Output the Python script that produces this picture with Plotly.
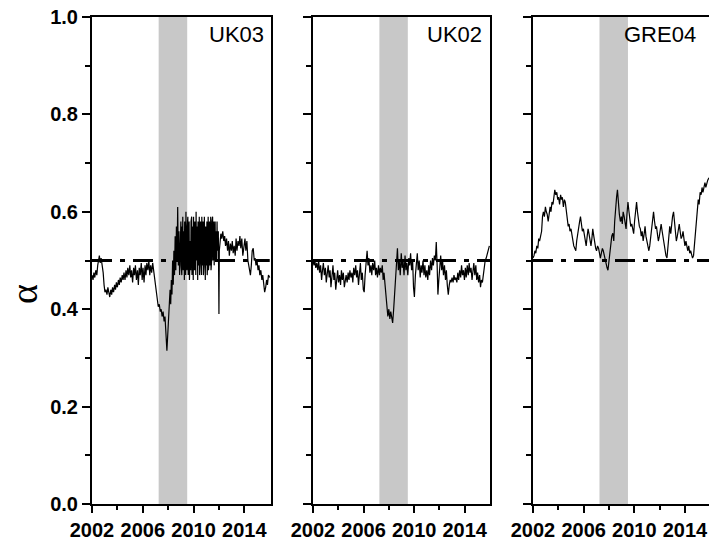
import plotly.graph_objects as go

# ---------------- data ----------------
panel_names = ["UK03", "UK02", "GRE04"]
crisis_window = [2007.25, 2009.5]
reference_alpha = 0.5
year_span = [2002, 2016]
year_ticks = [2002, 2006, 2010, 2014]
alpha_ticks = [0.0, 0.2, 0.4, 0.6, 0.8, 1.0]
alpha_tick_labels = ["0.0", "0.2", "0.4", "0.6", "0.8", "1.0"]

# UK03: pre-crisis part
uk03_years_a = [
    2002.00, 2002.08, 2002.15, 2002.22, 2002.30, 2002.38, 2002.45, 2002.52, 2002.58, 2002.65,
    2002.72, 2002.80, 2002.88, 2002.95, 2003.02, 2003.10, 2003.18, 2003.25, 2003.32, 2003.40,
    2003.48, 2003.55, 2003.62, 2003.70, 2003.78, 2003.85, 2003.92, 2004.00, 2004.08, 2004.15,
    2004.22, 2004.30, 2004.38, 2004.45, 2004.52, 2004.60, 2004.68, 2004.75, 2004.82, 2004.90,
    2004.98, 2005.05, 2005.12, 2005.20, 2005.28, 2005.35, 2005.42, 2005.50, 2005.58, 2005.65,
    2005.72, 2005.80, 2005.88, 2005.95, 2006.02, 2006.10, 2006.18, 2006.25, 2006.32, 2006.40,
    2006.48, 2006.55, 2006.62, 2006.70, 2006.78, 2006.85, 2006.92, 2007.00, 2007.08, 2007.15,
    2007.22, 2007.30, 2007.38, 2007.45, 2007.52, 2007.60, 2007.68, 2007.75, 2007.82, 2007.90,
    2007.95, 2008.00, 2008.05, 2008.10, 2008.15, 2008.20, 2008.25, 2008.30, 2008.35, 2008.40,
    2008.45, 2008.50, 2008.55, 2008.60, 2008.65, 2008.70, 2008.75, 2008.80, 2008.85, 2008.90,
    2008.95,
]
uk03_alpha_a = [
    0.470, 0.460, 0.475, 0.465, 0.480, 0.470, 0.490, 0.505, 0.510, 0.495,
    0.505, 0.490, 0.475, 0.450, 0.435, 0.440, 0.430, 0.445, 0.435, 0.425,
    0.440, 0.430, 0.445, 0.435, 0.450, 0.440, 0.455, 0.445, 0.460, 0.450,
    0.465, 0.455, 0.470, 0.460, 0.475, 0.460, 0.480, 0.465, 0.485, 0.470,
    0.490, 0.465, 0.480, 0.455, 0.485, 0.470, 0.490, 0.460, 0.480, 0.450,
    0.485, 0.470, 0.495, 0.460, 0.485, 0.455, 0.490, 0.470, 0.495, 0.480,
    0.500, 0.470, 0.490, 0.475, 0.495, 0.480, 0.465, 0.450, 0.430, 0.415,
    0.405, 0.410, 0.395, 0.400, 0.385, 0.395, 0.375, 0.385, 0.360, 0.315,
    0.340, 0.370, 0.400, 0.420, 0.440, 0.410, 0.460, 0.430, 0.500, 0.450,
    0.520, 0.470, 0.550, 0.480, 0.570, 0.500, 0.610, 0.490, 0.560, 0.470,
    0.580,
]
# UK03: dense, high-volatility stretch 2009-2012
uk03_years_b = [
    2009.000, 2009.025, 2009.050, 2009.075, 2009.100, 2009.125, 2009.150, 2009.175, 2009.200, 2009.225,
    2009.250, 2009.275, 2009.300, 2009.325, 2009.350, 2009.375, 2009.400, 2009.425, 2009.450, 2009.475,
    2009.500, 2009.525, 2009.550, 2009.575, 2009.600, 2009.625, 2009.650, 2009.675, 2009.700, 2009.725,
    2009.750, 2009.775, 2009.800, 2009.825, 2009.850, 2009.875, 2009.900, 2009.925, 2009.950, 2009.975,
    2010.000, 2010.025, 2010.050, 2010.075, 2010.100, 2010.125, 2010.150, 2010.175, 2010.200, 2010.225,
    2010.250, 2010.275, 2010.300, 2010.325, 2010.350, 2010.375, 2010.400, 2010.425, 2010.450, 2010.475,
    2010.500, 2010.525, 2010.550, 2010.575, 2010.600, 2010.625, 2010.650, 2010.675, 2010.700, 2010.725,
    2010.750, 2010.775, 2010.800, 2010.825, 2010.850, 2010.875, 2010.900, 2010.925, 2010.950, 2010.975,
    2011.000, 2011.025, 2011.050, 2011.075, 2011.100, 2011.125, 2011.150, 2011.175, 2011.200, 2011.225,
    2011.250, 2011.275, 2011.300, 2011.325, 2011.350, 2011.375, 2011.400, 2011.425, 2011.450, 2011.475,
    2011.500, 2011.525, 2011.550, 2011.575, 2011.600, 2011.625, 2011.650, 2011.675, 2011.700, 2011.725,
    2011.750, 2011.775, 2011.800, 2011.825, 2011.850, 2011.875, 2011.900, 2011.925, 2011.950, 2011.975,
]
uk03_alpha_b = [
    0.58, 0.49, 0.55, 0.47, 0.57, 0.52, 0.59, 0.48, 0.54, 0.50,
    0.56, 0.46, 0.58, 0.51, 0.55, 0.47, 0.60, 0.50, 0.53, 0.48,
    0.57, 0.49, 0.59, 0.47, 0.55, 0.52, 0.58, 0.46, 0.56, 0.50,
    0.54, 0.48, 0.58, 0.50, 0.59, 0.47, 0.55, 0.51, 0.57, 0.46,
    0.59, 0.49, 0.56, 0.48, 0.58, 0.52, 0.55, 0.47, 0.60, 0.50,
    0.55, 0.48, 0.57, 0.46, 0.58, 0.51, 0.56, 0.49, 0.59, 0.47,
    0.56, 0.50, 0.58, 0.48, 0.55, 0.47, 0.59, 0.51, 0.57, 0.49,
    0.58, 0.47, 0.55, 0.50, 0.59, 0.48, 0.56, 0.46, 0.57, 0.51,
    0.55, 0.49, 0.58, 0.47, 0.56, 0.51, 0.59, 0.48, 0.57, 0.50,
    0.58, 0.49, 0.56, 0.52, 0.59, 0.48, 0.57, 0.50, 0.58, 0.51,
    0.59, 0.50, 0.57, 0.52, 0.58, 0.49, 0.56, 0.51, 0.58, 0.50,
    0.57, 0.51, 0.56, 0.50, 0.58, 0.52, 0.55, 0.50, 0.56, 0.51,
]
# UK03: post-2012 part
uk03_years_c = [
    2012.00, 2012.03, 2012.08, 2012.15,
    2012.22, 2012.30, 2012.38, 2012.45, 2012.52, 2012.60, 2012.68, 2012.75, 2012.82, 2012.90,
    2012.98, 2013.05, 2013.12, 2013.20, 2013.28, 2013.35, 2013.42, 2013.50, 2013.58, 2013.65,
    2013.72, 2013.80, 2013.88, 2013.95, 2014.05, 2014.12, 2014.20, 2014.28, 2014.38, 2014.48,
    2014.55, 2014.62, 2014.70, 2014.78, 2014.85, 2014.92, 2015.00, 2015.08, 2015.15, 2015.22,
    2015.30, 2015.38, 2015.45, 2015.52, 2015.60, 2015.68, 2015.75, 2015.82, 2015.90, 2016.00,
]
uk03_alpha_c = [
    0.390, 0.520, 0.540, 0.555,
    0.545, 0.560, 0.540, 0.550, 0.530, 0.545, 0.520, 0.540, 0.510, 0.535,
    0.520, 0.540, 0.515, 0.530, 0.510, 0.545, 0.520, 0.540, 0.530, 0.550,
    0.525, 0.545, 0.510, 0.530, 0.545, 0.520, 0.540, 0.500, 0.480, 0.470,
    0.490, 0.520, 0.525, 0.500, 0.505, 0.490, 0.500, 0.480, 0.490, 0.470,
    0.480, 0.460, 0.470, 0.450, 0.435, 0.445, 0.460, 0.450, 0.470, 0.465,
]
uk03_years = uk03_years_a + uk03_years_b + uk03_years_c
uk03_alpha = uk03_alpha_a + uk03_alpha_b + uk03_alpha_c

uk02_years = [
    2002.00, 2002.08, 2002.15, 2002.22, 2002.30, 2002.38, 2002.45, 2002.52, 2002.60, 2002.68,
    2002.75, 2002.82, 2002.90, 2002.98, 2003.05, 2003.12, 2003.20, 2003.28, 2003.35, 2003.42,
    2003.50, 2003.58, 2003.65, 2003.72, 2003.80, 2003.88, 2003.95, 2004.02, 2004.10, 2004.18,
    2004.25, 2004.32, 2004.40, 2004.48, 2004.55, 2004.62, 2004.70, 2004.78, 2004.85, 2004.92,
    2005.00, 2005.08, 2005.15, 2005.22, 2005.30, 2005.38, 2005.45, 2005.52, 2005.60, 2005.68,
    2005.75, 2005.82, 2005.90, 2005.98, 2006.05, 2006.12, 2006.20, 2006.28, 2006.35, 2006.42,
    2006.50, 2006.58, 2006.65, 2006.72, 2006.80, 2006.88, 2006.95, 2007.02, 2007.10, 2007.18,
    2007.25, 2007.32, 2007.40, 2007.48, 2007.55, 2007.62, 2007.70, 2007.78, 2007.85, 2007.92,
    2008.00, 2008.08, 2008.15, 2008.22, 2008.30, 2008.38, 2008.45, 2008.52, 2008.60, 2008.68,
    2008.75, 2008.82, 2008.90, 2008.98, 2009.05, 2009.12, 2009.20, 2009.28, 2009.35, 2009.42,
    2009.50, 2009.58, 2009.65, 2009.72, 2009.80, 2009.88, 2009.95, 2010.02, 2010.10, 2010.18,
    2010.25, 2010.32, 2010.40, 2010.48, 2010.55, 2010.62, 2010.70, 2010.78, 2010.85, 2010.92,
    2011.00, 2011.08, 2011.15, 2011.22, 2011.30, 2011.38, 2011.45, 2011.52, 2011.60, 2011.68,
    2011.75, 2011.82, 2011.88, 2011.95, 2012.02, 2012.10, 2012.18, 2012.25, 2012.32, 2012.40,
    2012.48, 2012.55, 2012.62, 2012.70, 2012.78, 2012.85, 2012.92, 2013.00, 2013.08, 2013.15,
    2013.22, 2013.30, 2013.38, 2013.45, 2013.52, 2013.60, 2013.68, 2013.75, 2013.82, 2013.90,
    2013.98, 2014.05, 2014.12, 2014.20, 2014.28, 2014.35, 2014.42, 2014.50, 2014.58, 2014.65,
    2014.72, 2014.80, 2014.88, 2014.95, 2015.02, 2015.10, 2015.18, 2015.25, 2015.32, 2015.40,
    2015.48, 2015.55, 2015.62, 2015.70, 2015.78, 2015.85, 2015.95,
]
uk02_alpha = [
    0.500, 0.490, 0.500, 0.485, 0.495, 0.480, 0.500, 0.475, 0.490, 0.460,
    0.480, 0.495, 0.470, 0.485, 0.455, 0.480, 0.490, 0.465, 0.480, 0.445,
    0.470, 0.490, 0.460, 0.475, 0.440, 0.465, 0.480, 0.455, 0.470, 0.450,
    0.480, 0.460, 0.475, 0.445, 0.465, 0.470, 0.455, 0.475, 0.460, 0.480,
    0.465, 0.475, 0.455, 0.485, 0.470, 0.490, 0.465, 0.480, 0.450, 0.470,
    0.495, 0.460, 0.475, 0.440, 0.435, 0.470, 0.500, 0.520, 0.490, 0.505,
    0.475, 0.490, 0.470, 0.495, 0.480, 0.500, 0.470, 0.485, 0.465, 0.490,
    0.470, 0.485, 0.475, 0.490, 0.460, 0.475, 0.450, 0.430, 0.410, 0.385,
    0.400, 0.380, 0.395, 0.385, 0.372, 0.400, 0.435, 0.470, 0.500, 0.525,
    0.480, 0.500, 0.470, 0.515, 0.485, 0.500, 0.470, 0.510, 0.480, 0.495,
    0.470, 0.505, 0.490, 0.515, 0.480, 0.500, 0.445, 0.425, 0.470, 0.490,
    0.515, 0.480, 0.500, 0.465, 0.490, 0.475, 0.500, 0.470, 0.490, 0.465,
    0.480, 0.460, 0.490, 0.470, 0.500, 0.480, 0.505, 0.490, 0.510, 0.500,
    0.538, 0.490, 0.430, 0.460, 0.490, 0.510, 0.480, 0.500, 0.470, 0.490,
    0.460, 0.480, 0.450, 0.430, 0.450, 0.460, 0.455, 0.465, 0.455, 0.470,
    0.460, 0.465, 0.455, 0.475, 0.460, 0.480, 0.465, 0.490, 0.470, 0.480,
    0.460, 0.485, 0.465, 0.490, 0.470, 0.495, 0.475, 0.485, 0.460, 0.480,
    0.495, 0.470, 0.490, 0.460, 0.475, 0.455, 0.470, 0.445, 0.460, 0.455,
    0.470, 0.490, 0.500, 0.505, 0.515, 0.520, 0.530,
]

gre04_years = [
    2002.00, 2002.08, 2002.15, 2002.22, 2002.30, 2002.38, 2002.45, 2002.52, 2002.60, 2002.68,
    2002.75, 2002.82, 2002.90, 2002.98, 2003.05, 2003.12, 2003.20, 2003.28, 2003.35, 2003.42,
    2003.50, 2003.58, 2003.65, 2003.72, 2003.80, 2003.88, 2003.95, 2004.02, 2004.10, 2004.18,
    2004.25, 2004.32, 2004.40, 2004.48, 2004.55, 2004.62, 2004.70, 2004.78, 2004.85, 2004.92,
    2005.00, 2005.08, 2005.15, 2005.22, 2005.30, 2005.38, 2005.45, 2005.52, 2005.60, 2005.68,
    2005.75, 2005.82, 2005.90, 2005.98, 2006.05, 2006.12, 2006.20, 2006.28, 2006.35, 2006.42,
    2006.50, 2006.58, 2006.65, 2006.72, 2006.80, 2006.88, 2006.95, 2007.02, 2007.10, 2007.18,
    2007.25, 2007.32, 2007.40, 2007.48, 2007.55, 2007.62, 2007.70, 2007.78, 2007.85, 2007.92,
    2008.00, 2008.08, 2008.15, 2008.22, 2008.30, 2008.38, 2008.45, 2008.52, 2008.60, 2008.67,
    2008.75, 2008.82, 2008.90, 2008.98, 2009.05, 2009.12, 2009.20, 2009.28, 2009.35, 2009.42,
    2009.50, 2009.58, 2009.65, 2009.72, 2009.80, 2009.88, 2009.95, 2010.02, 2010.10, 2010.18,
    2010.25, 2010.32, 2010.40, 2010.48, 2010.55, 2010.62, 2010.70, 2010.78, 2010.85, 2010.92,
    2011.00, 2011.08, 2011.15, 2011.22, 2011.30, 2011.38, 2011.45, 2011.52, 2011.60, 2011.68,
    2011.75, 2011.82, 2011.90, 2011.98, 2012.05, 2012.12, 2012.20, 2012.28, 2012.35, 2012.42,
    2012.50, 2012.58, 2012.65, 2012.72, 2012.80, 2012.88, 2012.95, 2013.02, 2013.10, 2013.18,
    2013.25, 2013.32, 2013.40, 2013.48, 2013.55, 2013.62, 2013.70, 2013.78, 2013.85, 2013.92,
    2014.00, 2014.08, 2014.15, 2014.22, 2014.30, 2014.38, 2014.45, 2014.52, 2014.60, 2014.68,
    2014.75, 2014.82, 2014.90, 2014.98, 2015.05, 2015.12, 2015.20, 2015.28, 2015.35, 2015.42,
    2015.50, 2015.58, 2015.65, 2015.72, 2015.80, 2015.90,
]
gre04_alpha = [
    0.505, 0.510, 0.520, 0.515, 0.530, 0.525, 0.545, 0.540, 0.550, 0.560,
    0.590, 0.600, 0.590, 0.610, 0.600, 0.595, 0.580, 0.605, 0.610, 0.600,
    0.620, 0.615, 0.640, 0.645, 0.635, 0.640, 0.625, 0.630, 0.615, 0.635,
    0.625, 0.630, 0.610, 0.625, 0.620, 0.600, 0.585, 0.570, 0.575, 0.560,
    0.565, 0.550, 0.545, 0.530, 0.525, 0.520, 0.540, 0.555, 0.570, 0.580,
    0.590, 0.575, 0.560, 0.565, 0.550, 0.540, 0.530, 0.550, 0.565, 0.555,
    0.540, 0.530, 0.545, 0.565, 0.550, 0.535, 0.525, 0.520, 0.530, 0.525,
    0.510, 0.505, 0.515, 0.525, 0.520, 0.510, 0.500, 0.495, 0.485, 0.480,
    0.500, 0.515, 0.535, 0.550, 0.556, 0.540, 0.580, 0.610, 0.630, 0.645,
    0.610, 0.595, 0.580, 0.590, 0.575, 0.600, 0.590, 0.570, 0.565, 0.595,
    0.620, 0.600, 0.585, 0.570, 0.575, 0.560, 0.555, 0.580, 0.600, 0.620,
    0.600, 0.585, 0.570, 0.565, 0.550, 0.560, 0.540, 0.555, 0.570, 0.550,
    0.540, 0.530, 0.520, 0.530, 0.550, 0.575, 0.590, 0.600, 0.580, 0.565,
    0.570, 0.550, 0.540, 0.550, 0.565, 0.575, 0.560, 0.545, 0.530, 0.520,
    0.510, 0.505, 0.530, 0.560, 0.570, 0.555, 0.580, 0.590, 0.600, 0.575,
    0.560, 0.540, 0.550, 0.565, 0.575, 0.560, 0.545, 0.550, 0.560, 0.545,
    0.530, 0.540, 0.525, 0.520, 0.530, 0.515, 0.520, 0.510, 0.505, 0.510,
    0.530, 0.550, 0.580, 0.610, 0.625, 0.615, 0.640, 0.635, 0.650, 0.640,
    0.655, 0.660, 0.650, 0.660, 0.665, 0.670,
]

series_years = [uk03_years, uk02_years, gre04_years]
series_alpha = [uk03_alpha, uk02_alpha, gre04_alpha]

# ---------------- layout geometry ----------------
W, H = 709, 540
x_domains = [(92 / W, 271 / W), (313 / W, 490 / W), (533 / W, 1.0)]
x_ranges = [[2002, 2016.1], [2002, 2016.0], [2002, 2015.9]]
y_domain = [(H - 504) / H, (H - 17) / H]

tick_font = dict(family="Liberation Sans, Arial, sans-serif", size=20, color="black", weight="bold")

fig = go.Figure()

for i in range(3):
    xa = "x" if i == 0 else f"x{i+1}"
    ya = "y" if i == 0 else f"y{i+1}"
    fig.add_trace(go.Scatter(
        x=series_years[i], y=series_alpha[i], mode="lines",
        line=dict(color="black", width=1.2), xaxis=xa, yaxis=ya, showlegend=False,
        hoverinfo="skip"))
    fig.add_trace(go.Scatter(
        x=year_span, y=[reference_alpha, reference_alpha], mode="lines",
        line=dict(color="black", width=3, dash="20px,8px,5px,8px"),
        xaxis=xa, yaxis=ya, showlegend=False, hoverinfo="skip"))
    fig.add_shape(type="rect", xref=xa, yref=ya,
                  x0=crisis_window[0], x1=crisis_window[1], y0=0, y1=1,
                  fillcolor="#c8c8c8", line_width=0, layer="below")

    xkey = "xaxis" if i == 0 else f"xaxis{i+1}"
    ykey = "yaxis" if i == 0 else f"yaxis{i+1}"
    fig.update_layout({
        xkey: dict(
            domain=list(x_domains[i]), range=x_ranges[i], anchor=ya, automargin=False,
            tickmode="array", tickvals=year_ticks, ticktext=[str(t) for t in year_ticks],
            ticks="outside", ticklen=7, tickwidth=2, tickcolor="black",
            showline=True, linewidth=2, linecolor="black", mirror=True,
            showgrid=False, zeroline=False, tickfont=tick_font,
            minor=dict(tickvals=[2004, 2008, 2012], ticks="outside", ticklen=4,
                       tickwidth=2, tickcolor="black", showgrid=False),
        ),
        ykey: dict(
            domain=y_domain, range=[0, 1], anchor=xa, automargin=False,
            tickmode="array", tickvals=alpha_ticks,
            ticktext=alpha_tick_labels if i == 0 else [""] * len(alpha_ticks),
            ticks="outside", ticklen=8, tickwidth=2, tickcolor="black",
            showline=True, linewidth=2, linecolor="black", mirror=(i < 2),
            showgrid=False, zeroline=False, tickfont=tick_font,
            minor=dict(tickvals=[0.1, 0.3, 0.5, 0.7, 0.9], ticks="outside", ticklen=5,
                       tickwidth=2, tickcolor="black", showgrid=False),
        ),
    })

# panel labels
label_right_px = [266, 484, 698]
for name, xr in zip(panel_names, label_right_px):
    fig.add_annotation(text=name, xref="paper", yref="paper",
                       x=xr / W, y=(H - 35) / H, xanchor="right", yanchor="middle",
                       showarrow=False,
                       font=dict(family="Liberation Sans, Arial, sans-serif", size=22, color="black"))

# y title
fig.add_annotation(text="α", xref="paper", yref="paper", x=24 / W, y=(H - 294) / H,
                   xanchor="center", yanchor="middle", textangle=-90, showarrow=False,
                   font=dict(family="Liberation Serif, Times New Roman, serif", size=38, color="black"))

fig.update_layout(width=W, height=H, margin=dict(l=0, r=0, t=0, b=0),
                  paper_bgcolor="white", plot_bgcolor="white")

fig.write_html("out.html")
